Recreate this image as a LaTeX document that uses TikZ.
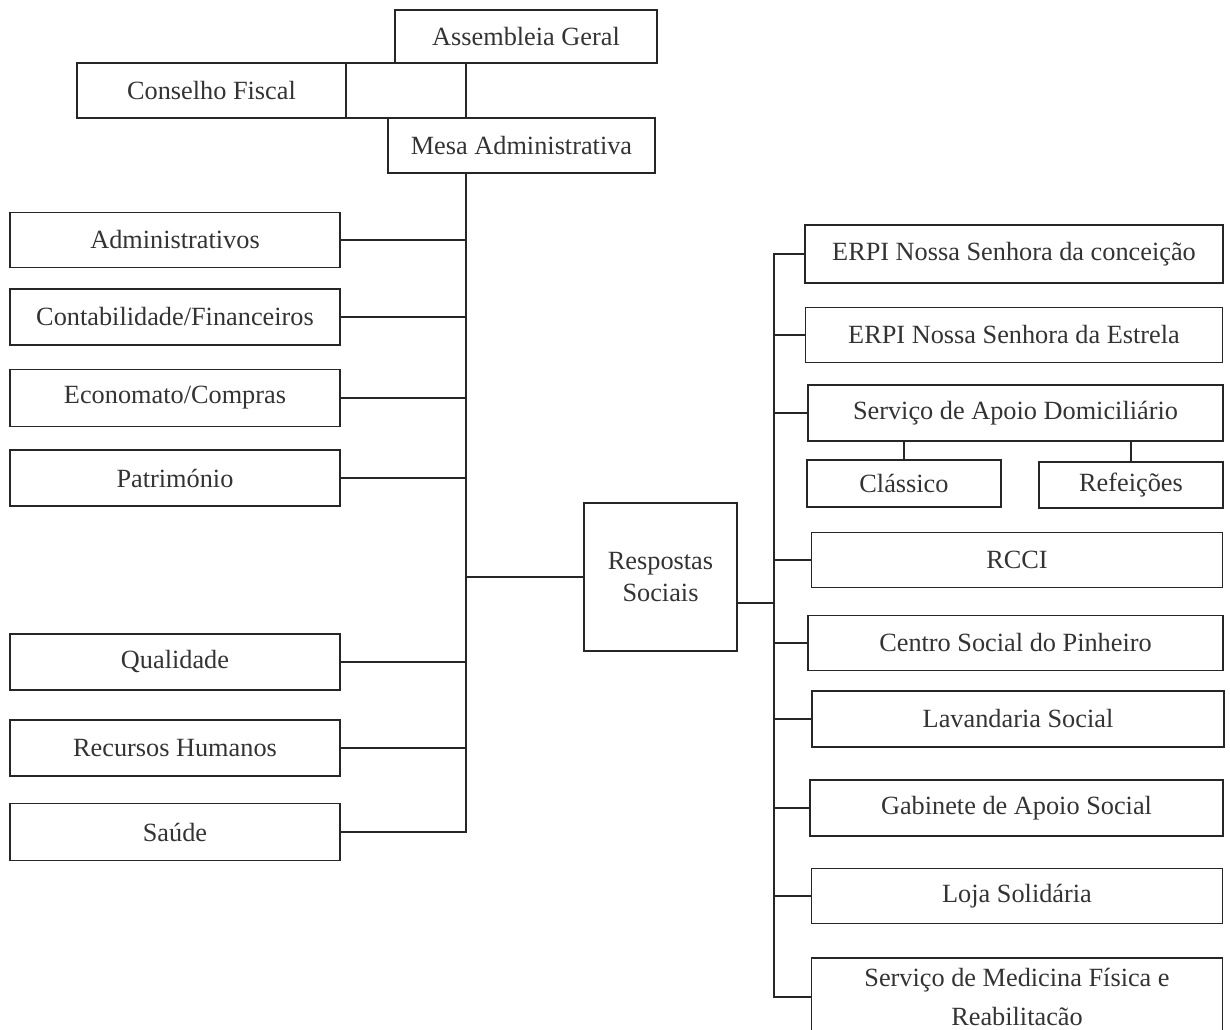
\documentclass[tikz,border=0pt]{standalone}
\usepackage{fontspec}
\setmainfont{Liberation Serif}
\usepackage{tikz}
\usetikzlibrary{positioning}

\tikzset{
	org/.style 2 args={draw=black!85, line width=1.3pt, text=black!80,
		minimum width=#1*0.025cm, minimum height=#2*0.025cm, inner sep=2pt, outer sep=0pt,
		font=\fontsize{18.7}{22}\selectfont, align=center},
	link/.style={draw=black!85, line width=1.3pt}
}

\begin{document}
\begin{tikzpicture}[x=0.025cm, y=-0.025cm]
	\useasboundingbox (0,0) rectangle (1230,1030);

	% governing bodies
	\node[org={262}{53}] (ag) at (526,36.5) {Assembleia Geral};
	\node[org={269}{55}] (cf) at (211.5,90.5) {Conselho Fiscal};
	\node[org={267}{55}] (mesa) at (521.5,145.5) {Mesa Administrativa};

	% services on the left
	\node[org={330}{55}] (adm) at (175,240) {Administrativos};
	\node[org={330}{56}] (cont) at (175,317) {Contabilidade/Financeiros};
	\node[org={330}{57}] (econ) at (175,398) {Economato/Compras};
	\node[org={330}{56}] (patr) at (175,478) {Património};
	\node[org={330}{56}] (qual) at (175,662) {Qualidade};
	\node[org={330}{56}] (rh) at (175,748) {Recursos Humanos};
	\node[org={330}{57}] (saude) at (175,832) {Saúde};

	\node[org={153}{148}, font=\fontsize{18.7}{22.5}\selectfont] (resp) at (660.5,577) {Respostas\\Sociais};

	% social responses on the right
	\node[org={418}{58}] (erpic) at (1014,254) {ERPI Nossa Senhora da conceição};
	\node[org={417}{55}] (erpie) at (1014,335) {ERPI Nossa Senhora da Estrela};
	\node[org={415}{56}] (sad) at (1015.5,413) {Serviço de Apoio Domiciliário};
	\node[org={194}{47}] (classico) at (904,483.5) {Clássico};
	\node[org={184}{46}] (refeicoes) at (1131,485) {Refeições};
	\node[org={411}{55}] (rcci) at (1017,560) {RCCI};
	\node[org={415}{55}] (centro) at (1015.5,643) {Centro Social do Pinheiro};
	\node[org={412}{56}] (lav) at (1018,719) {Lavandaria Social};
	\node[org={413}{56}] (gab) at (1016.5,808) {Gabinete de Apoio Social};
	\node[org={411}{55}] (loja) at (1017,896) {Loja Solidária};
	\node[org={411}{78}, anchor=north, font=\fontsize{18.7}{28}\selectfont] (smfr) at (1017,958)
		{Serviço de Medicina Física e\\Reabilitacão};

	\coordinate (lbus) at (466,173);
	\coordinate (rtop) at (774,254);
	\coordinate (rbot) at (774,997);
	\coordinate (rin) at (774,603);

	% top links
	\draw[link] (cf.north east) -- (ag.south west);
	\draw[link] (cf.south east) -- (mesa.north west);
	\draw[link] (ag.south -| lbus) -- (mesa.north -| lbus);

	% left bus
	\draw[link] (lbus) -- (lbus |- saude.east) -- (saude.east);
	\foreach \n in {adm,cont,econ,patr,qual,rh}
		\draw[link] (\n.east) -- (\n.east -| lbus);
	\draw[link] (resp.west -| lbus) -- (resp.west);

	% right bus
	\draw[link] (rin -| resp.east) -- (rin);
	\draw[link] (erpic.west) -- (rtop) -- (rbot) -- (rbot -| smfr.west);
	\foreach \n in {erpie,sad,rcci,centro,lav,gab,loja}
		\draw[link] (\n.west -| rtop) -- (\n.west);
	\draw[link] (classico.north |- sad.south) -- (classico.north);
	\draw[link] (refeicoes.north |- sad.south) -- (refeicoes.north);
\end{tikzpicture}
\end{document}
